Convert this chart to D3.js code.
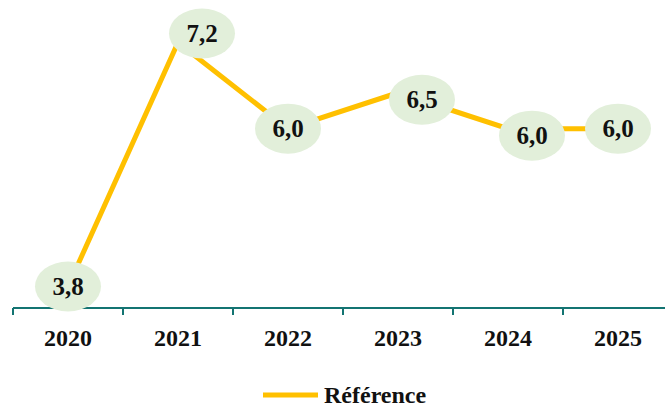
<!DOCTYPE html>
<html>
<head>
    <meta charset="utf-8">
    <title>line</title>
    <style>
        body { margin: 0; background: #fff; }
        text { font-family: "Times New Roman", "Liberation Serif", Times, serif; font-weight: bold; fill: #111; }
        .axis path, .axis line { stroke: #137472; stroke-width: 2px; }
        .line { fill: none; stroke: #FFC000; stroke-width: 5px; }
        .bubble { fill: #E2EFDA; }
    </style>
</head>
<body>
<script src="https://cdn.jsdelivr.net/npm/d3@7"></script>
<script>
    // data
    var years = ["2020", "2021", "2022", "2023", "2024", "2025"];
    var values = [3.8, 7.2, 6.0, 6.5, 6.0, 6.0];
    var seriesName = "Référence";
    // where each value label sits relative to its point
    var labelPlace = ["center", "upright", "center", "downright", "downright", "center"];

    var width = 665, height = 407;
    var margin = {top: 21, right: -8, bottom: 99, left: 13};

    var svg = d3.select("body").append("svg")
        .attr("width", width)
        .attr("height", height);

    var x = d3.scaleBand()
        .domain(years)
        .range([margin.left, width - margin.right]);

    var y = d3.scaleLinear()
        .domain([3.5, 7.5])
        .range([height - margin.bottom, margin.top]);

    var fmt = function (v) { return d3.format(".1f")(v).replace(".", ","); };

    // x axis
    var axis = svg.append("g")
        .attr("class", "axis")
        .attr("transform", "translate(0," + y(3.5) + ")")
        .call(d3.axisBottom(x).tickSize(0).tickPadding(0).tickFormat(""));
    axis.select(".domain").attr("d", "M" + margin.left + ",0H" + width);

    // band edge ticks
    axis.selectAll("line.edge")
        .data(years)
        .enter().append("line")
        .attr("class", "edge")
        .attr("x1", function (d) { return x(d); })
        .attr("x2", function (d) { return x(d); })
        .attr("y1", 0)
        .attr("y2", 7);

    svg.selectAll("text.year")
        .data(years)
        .enter().append("text")
        .attr("class", "year")
        .attr("x", function (d) { return x(d) + x.bandwidth() / 2; })
        .attr("y", y(3.5) + 38)
        .attr("text-anchor", "middle")
        .style("font-size", "24px")
        .text(function (d) { return d; });

    // line
    var line = d3.line()
        .x(function (d, i) { return x(years[i]) + x.bandwidth() / 2; })
        .y(function (d) { return y(d); });

    svg.append("path")
        .datum(values)
        .attr("class", "line")
        .attr("d", line);

    // labels
    var offsets = {center: [0, 0], upright: [24, -9], downright: [24, 7]};
    var lab = svg.selectAll("g.lab")
        .data(values)
        .enter().append("g")
        .attr("class", "lab")
        .attr("transform", function (d, i) {
            var o = offsets[labelPlace[i]];
            return "translate(" + (x(years[i]) + x.bandwidth() / 2 + o[0]) + "," + (y(d) + o[1]) + ")";
        });
    lab.append("ellipse")
        .attr("class", "bubble")
        .attr("rx", 33)
        .attr("ry", 25);
    lab.append("text")
        .attr("text-anchor", "middle")
        .attr("dy", "0.33em")
        .style("font-size", "25px")
        .text(function (d) { return fmt(d); });

    // legend
    var legend = svg.append("g").attr("transform", "translate(263,395)");
    legend.append("line")
        .attr("x1", 0).attr("x2", 55)
        .attr("y1", 0).attr("y2", 0)
        .attr("stroke", "#FFC000")
        .attr("stroke-width", 5);
    legend.append("text")
        .attr("x", 61)
        .attr("y", 8)
        .style("font-size", "24px")
        .text(seriesName);
</script>
</body>
</html>
